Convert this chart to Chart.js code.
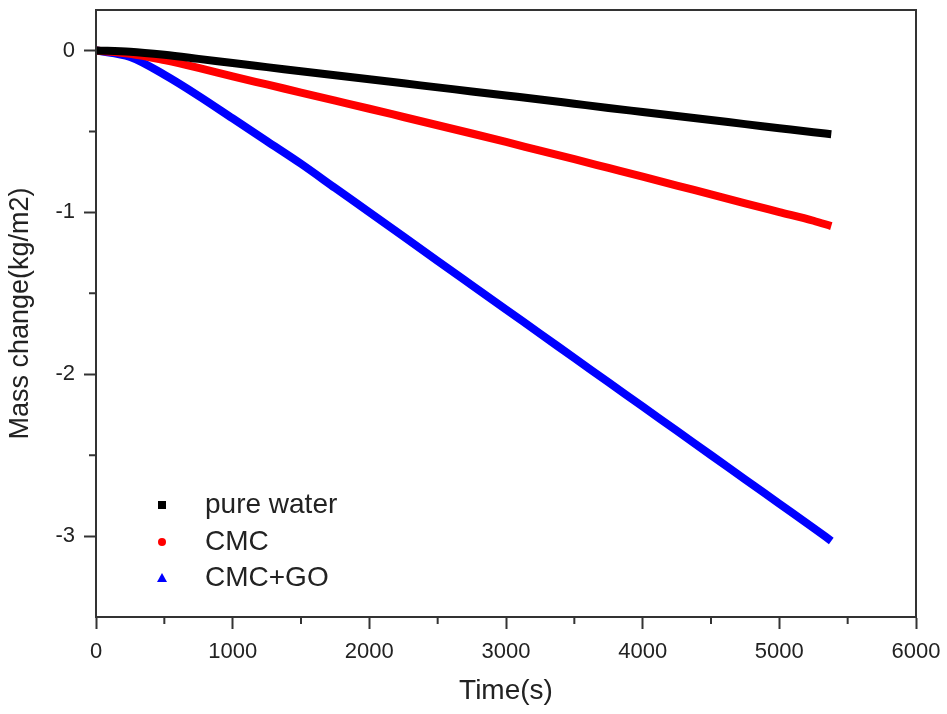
<!DOCTYPE html>
<html>
<head>
<meta charset="utf-8">
<script src="https://cdn.jsdelivr.net/npm/chart.js"></script>
<style>
  body { margin: 0; background: #fff; }
  #wrap { width: 947px; height: 714px; }
</style>
</head>
<body>
<div id="wrap"><canvas id="myChart"></canvas></div>
<script>
// evaporation time (s) and mass change (kg/m2) for each sample
const time = [0, 250, 500, 750, 1000, 1250, 1500, 1750, 2000, 2250, 2500, 2750, 3000, 3250, 3500, 3750, 4000, 4250, 4500, 4750, 5000, 5250, 5380]
const pureWater = [0, -0.008, -0.027, -0.052, -0.078, -0.103, -0.128, -0.153, -0.178, -0.203, -0.228, -0.253, -0.278, -0.303, -0.329, -0.355, -0.38, -0.405, -0.43, -0.455, -0.48, -0.505, -0.517]
const cmc = [0, -0.02, -0.06, -0.108, -0.16, -0.21, -0.26, -0.31, -0.36, -0.411, -0.462, -0.513, -0.565, -0.619, -0.672, -0.726, -0.78, -0.835, -0.889, -0.944, -0.998, -1.052, -1.085]
const cmcGo = [0, -0.04, -0.15, -0.28, -0.42, -0.56, -0.70, -0.85, -1.00, -1.15, -1.30, -1.45, -1.60, -1.75, -1.90, -2.05, -2.20, -2.35, -2.50, -2.65, -2.80, -2.95, -3.03]

const seriesNames = ['pure water', 'CMC', 'CMC+GO']
const xTicks = [0, 1000, 2000, 3000, 4000, 5000, 6000]
const xMinor = [500, 1500, 2500, 3500, 4500, 5500]
const yTicks = [0, -1, -2, -3]
const yMinor = [-0.5, -1.5, -2.5]

const FONT = "'Liberation Sans', Arial, sans-serif"
const INK = '#222'

const toPoints = arr => arr.map((v, i) => ({ x: time[i], y: v }))

// box around the plot + short minor ticks outside it
const framePlugin = {
  id: 'frame',
  afterDraw(chart) {
    const { ctx, chartArea: a } = chart
    const x = chart.scales.x, y = chart.scales.y
    ctx.save()
    ctx.strokeStyle = '#333'
    ctx.lineWidth = 2
    ctx.strokeRect(a.left, a.top, a.right - a.left, a.bottom - a.top)
    ctx.beginPath()
    xMinor.forEach(v => {
      const px = x.getPixelForValue(v)
      ctx.moveTo(px, a.bottom)
      ctx.lineTo(px, a.bottom + 7)
    })
    yMinor.forEach(v => {
      const py = y.getPixelForValue(v)
      ctx.moveTo(a.left, py)
      ctx.lineTo(a.left - 7, py)
    })
    ctx.stroke()
    ctx.restore()
  }
}

// legend sits inside the plot, lower left
const legendPlugin = {
  id: 'innerLegend',
  afterDraw(chart) {
    const { ctx, chartArea: a } = chart
    const mx = a.left + 66
    const tx = a.left + 109
    const rows = [a.bottom - 112, a.bottom - 75, a.bottom - 39]
    ctx.save()
    ctx.font = '28px ' + FONT
    ctx.textBaseline = 'middle'
    chart.data.datasets.forEach((ds, i) => {
      const yy = rows[i]
      ctx.fillStyle = ds.borderColor
      ctx.beginPath()
      if (i === 0) {
        ctx.rect(mx - 4, yy - 4, 8, 8)
      } else if (i === 1) {
        ctx.arc(mx, yy, 4, 0, Math.PI * 2)
      } else {
        ctx.moveTo(mx, yy - 5)
        ctx.lineTo(mx + 5, yy + 4)
        ctx.lineTo(mx - 5, yy + 4)
        ctx.closePath()
      }
      ctx.fill()
      ctx.fillStyle = INK
      ctx.fillText(ds.label, tx, yy)
    })
    ctx.restore()
  }
}

const ctx = document.getElementById('myChart')
new Chart(ctx, {
  type: 'line',
  data: {
    datasets: [
      { label: seriesNames[0], data: toPoints(pureWater), borderColor: '#000000' },
      { label: seriesNames[1], data: toPoints(cmc), borderColor: '#ff0000' },
      { label: seriesNames[2], data: toPoints(cmcGo), borderColor: '#0000ff' }
    ].map(ds => Object.assign(ds, {
      borderWidth: 8,
      pointRadius: 0,
      cubicInterpolationMode: 'monotone',
      fill: false
    }))
  },
  options: {
    responsive: true,
    maintainAspectRatio: false,
    animation: false,
    layout: { padding: { left: 0, right: 31, top: 10, bottom: 0 } },
    plugins: {
      legend: { display: false },
      tooltip: { enabled: false }
    },
    scales: {
      x: {
        type: 'linear',
        min: 0,
        max: 6000,
        afterFit(scale) {
          scale.height = 97
          scale.paddingLeft = 0
          scale.paddingRight = 0
        },
        afterBuildTicks(scale) { scale.ticks = xTicks.map(v => ({ value: v })) },
        grid: { drawOnChartArea: false, drawTicks: true, tickLength: 12, tickWidth: 2, tickColor: '#333' },
        border: { display: true, color: '#333', width: 2 },
        ticks: { color: INK, font: { family: FONT, size: 22 }, padding: 10, maxRotation: 0, callback: v => String(v) },
        title: { display: true, text: 'Time(s)', color: INK, font: { family: FONT, size: 28 }, padding: { top: 0, bottom: 6 } }
      },
      y: {
        type: 'linear',
        min: -3.5,
        max: 0.25,
        afterFit(scale) {
          scale.width = 96
          scale.paddingTop = 0
          scale.paddingBottom = 0
        },
        afterBuildTicks(scale) { scale.ticks = yTicks.map(v => ({ value: v })) },
        grid: { drawOnChartArea: false, drawTicks: true, tickLength: 12, tickWidth: 2, tickColor: '#333' },
        border: { display: true, color: '#333', width: 2 },
        ticks: { color: INK, font: { family: FONT, size: 22 }, padding: 9, callback: v => String(v) },
        title: { display: true, text: 'Mass change(kg/m2)', color: INK, font: { family: FONT, size: 27 }, padding: { top: 4, bottom: 0 } }
      }
    }
  },
  plugins: [framePlugin, legendPlugin]
})
</script>
</body>
</html>
